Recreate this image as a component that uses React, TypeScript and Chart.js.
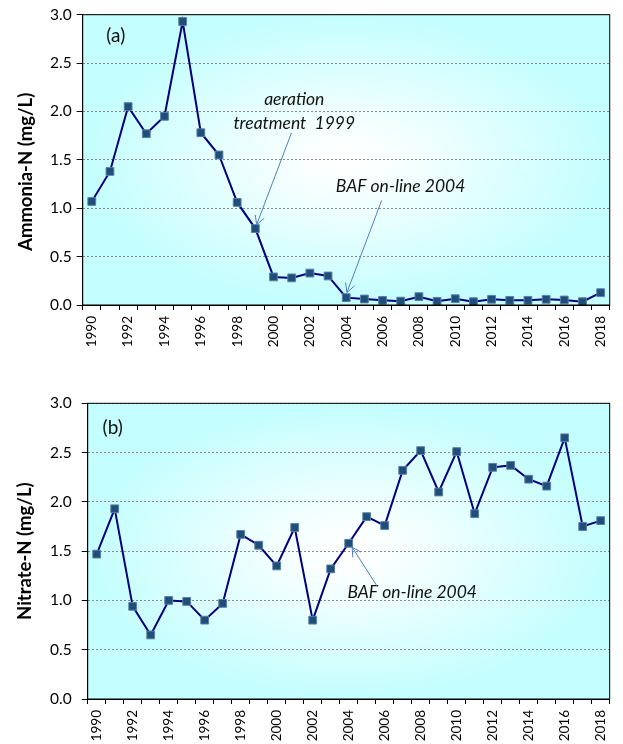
import React, { useEffect, useRef } from 'react';
import { Chart, registerables } from 'chart.js';

Chart.register(...registerables);

const years = ['1990','1991','1992','1993','1994','1995','1996','1997','1998','1999','2000','2001','2002','2003','2004','2005','2006','2007','2008','2009','2010','2011','2012','2013','2014','2015','2016','2017','2018'];

const ammonia = [1.07,1.38,2.05,1.77,1.95,2.93,1.78,1.55,1.06,0.79,0.29,0.28,0.33,0.30,0.076,0.062,0.048,0.04,0.086,0.038,0.065,0.034,0.059,0.048,0.048,0.059,0.052,0.034,0.127];

const nitrate = [1.47,1.93,0.94,0.65,1.00,0.99,0.80,0.97,1.67,1.56,1.35,1.74,0.80,1.32,1.58,1.85,1.76,2.32,2.52,2.10,2.51,1.88,2.35,2.37,2.23,2.16,2.65,1.75,1.81];

const yMin = 0;
const yMax = 3;
const yStep = 0.5;

// annotation texts placed in data coordinates (category index, value)
const notesA = [
  { text: '(a)', x: 1.32, y: 2.78, italic: false },
  { text: 'aeration', x: 11.14, y: 2.12, italic: true },
  { text: 'treatment  1999', x: 11.14, y: 1.88, italic: true },
  { text: 'BAF on-line 2004', x: 16.99, y: 1.23, italic: true },
];
const arrowsA = [
  { from: [10.99, 1.78], to: [9.07, 0.83] },
  { from: [15.95, 1.08], to: [14.04, 0.13] },
];
const notesB = [
  { text: '(b)', x: 0.89, y: 2.75, italic: false },
  { text: 'BAF on-line 2004', x: 17.53, y: 1.085, italic: true },
];
const arrowsB = [
  { from: [15.61, 1.136], to: [14.19, 1.54] },
];

const FONT = 'Lato, "Open Sans", sans-serif';

type PanelCfg = {
  title: string;
  titleX: number;
  titleDy: number;
  notes: { text: string; x: number; y: number; italic: boolean }[];
  arrows: { from: number[]; to: number[] }[];
};

function makeDecor(cfg: PanelCfg) {
  return {
    id: 'decor',
    beforeDraw(chart: any) {
      const { ctx, chartArea: a } = chart;
      const w = a.right - a.left;
      const h = a.bottom - a.top;
      const cx = a.left + w / 2;
      const cy = a.top + h / 2;
      ctx.save();
      ctx.beginPath();
      ctx.rect(a.left, a.top, w, h);
      ctx.clip();
      ctx.translate(cx, cy);
      ctx.scale(w / 2, h / 2);
      const g = ctx.createRadialGradient(0, 0, 0, 0, 0, 1.0);
      g.addColorStop(0, '#ffffff');
      g.addColorStop(0.15, '#fbffff');
      g.addColorStop(1, '#c4fefe');
      ctx.fillStyle = g;
      ctx.fillRect(-1.2, -1.2, 2.4, 2.4);
      ctx.restore();
    },
    afterDraw(chart: any) {
      const { ctx, chartArea: a, scales } = chart;
      const xs = scales.x;
      const ys = scales.y;
      ctx.save();
      // plot border
      ctx.strokeStyle = '#000';
      ctx.lineWidth = 1;
      ctx.strokeRect(a.left, a.top, a.right - a.left, a.bottom - a.top);
      // notes
      ctx.fillStyle = '#111';
      ctx.textAlign = 'center';
      ctx.textBaseline = 'middle';
      cfg.notes.forEach((n) => {
        ctx.font = n.italic ? `italic 17.5px ${FONT}` : `19px ${FONT}`;
        ctx.fillText(n.text, xs.getPixelForValue(n.x), ys.getPixelForValue(n.y));
      });
      // arrows
      ctx.strokeStyle = '#4f81bd';
      ctx.lineWidth = 1;
      cfg.arrows.forEach((ar) => {
        const x1 = xs.getPixelForValue(ar.from[0]);
        const y1 = ys.getPixelForValue(ar.from[1]);
        const x2 = xs.getPixelForValue(ar.to[0]);
        const y2 = ys.getPixelForValue(ar.to[1]);
        ctx.beginPath();
        ctx.moveTo(x1, y1);
        ctx.lineTo(x2, y2);
        const ang = Math.atan2(y1 - y2, x1 - x2);
        const L = 10;
        const sp = 0.5;
        ctx.moveTo(x2 + L * Math.cos(ang - sp), y2 + L * Math.sin(ang - sp));
        ctx.lineTo(x2, y2);
        ctx.lineTo(x2 + L * Math.cos(ang + sp), y2 + L * Math.sin(ang + sp));
        ctx.stroke();
      });
      // y title
      ctx.fillStyle = '#000';
      ctx.font = `bold 18.5px ${FONT}`;
      ctx.translate(cfg.titleX, (a.top + a.bottom) / 2 + cfg.titleDy);
      ctx.rotate(-Math.PI / 2);
      ctx.fillText(cfg.title, 0, 0);
      ctx.restore();
    },
  };
}

type Layout = {
  height: number;
  padTop: number;
  padRight: number;
  yWidth: number;
  xHeight: number;
  yPad: number;
};

function Panel({ values, layout, cfg }: { values: number[]; layout: Layout; cfg: PanelCfg }) {
  const ref = useRef<HTMLCanvasElement | null>(null);
  useEffect(() => {
    if (!ref.current) return;
    const chart = new Chart(ref.current, {
      type: 'line',
      data: {
        labels: years,
        datasets: [
          {
            data: values,
            borderColor: '#000080',
            borderWidth: 2,
            tension: 0,
            pointStyle: 'rect',
            pointRadius: 5.5,
            pointBackgroundColor: '#1f4e79',
            pointBorderColor: '#5a7ea6',
            pointBorderWidth: 1,
            fill: false,
          },
        ],
      },
      options: {
        animation: false,
        responsive: false,
        devicePixelRatio: 1,
        layout: { padding: { left: 0, top: layout.padTop, right: layout.padRight, bottom: 0 } },
        plugins: { legend: { display: false }, tooltip: { enabled: false } },
        scales: {
          x: {
            type: 'category',
            offset: true,
            grid: {
              offset: true,
              drawOnChartArea: false,
              drawTicks: true,
              tickLength: 5,
              tickColor: '#000',
              color: '#000',
            },
            border: { display: true, color: '#000', width: 1 },
            ticks: {
              autoSkip: false,
              minRotation: 90,
              maxRotation: 90,
              padding: 6,
              color: '#000',
              font: { family: FONT, size: 13.5 },
              callback: (_v: any, i: number) => (i % 2 === 0 ? years[i] : ''),
            },
            afterFit: (s: any) => {
              s.height = layout.xHeight;
            },
          },
          y: {
            min: yMin,
            max: yMax,
            ticks: {
              stepSize: yStep,
              padding: layout.yPad,
              color: '#000',
              font: { family: FONT, size: 15.5 },
              callback: (v: any) => Number(v).toFixed(1),
            },
            grid: {
              color: '#8a8a8a',
              lineWidth: 1,
              tickLength: 6,
              tickColor: '#000',
              drawTicks: true,
            },
            border: { display: true, color: '#000', width: 1, dash: [2, 2] },
            afterFit: (s: any) => {
              s.width = layout.yWidth;
            },
          },
        },
      },
      plugins: [makeDecor(cfg)],
    } as any);
    return () => chart.destroy();
  }, []);
  return (
    <canvas
      ref={ref}
      width={623}
      height={layout.height}
      style={{ display: 'block', width: 623, height: layout.height }}
    />
  );
}

export default function App() {
  return (
    <div style={{ position: 'absolute', left: 0, top: 0, width: 623, height: 744, background: '#fff' }}>
      <div style={{ position: 'absolute', left: 0, top: 0 }}>
        <Panel
          values={ammonia}
          layout={{ height: 355, padTop: 14.7, padRight: 9, yWidth: 82.7, xHeight: 50, yPad: 5 }}
          cfg={{ title: 'Ammonia-N (mg/L)', titleX: 26, titleDy: 12, notes: notesA, arrows: arrowsA }}
        />
      </div>
      <div style={{ position: 'absolute', left: 0, top: 360 }}>
        <Panel
          values={nitrate}
          layout={{ height: 384, padTop: 43.3, padRight: 3.7, yWidth: 87.7, xHeight: 45, yPad: 10 }}
          cfg={{ title: 'Nitrate-N (mg/L)', titleX: 25, titleDy: 0, notes: notesB, arrows: arrowsB }}
        />
      </div>
    </div>
  );
}
